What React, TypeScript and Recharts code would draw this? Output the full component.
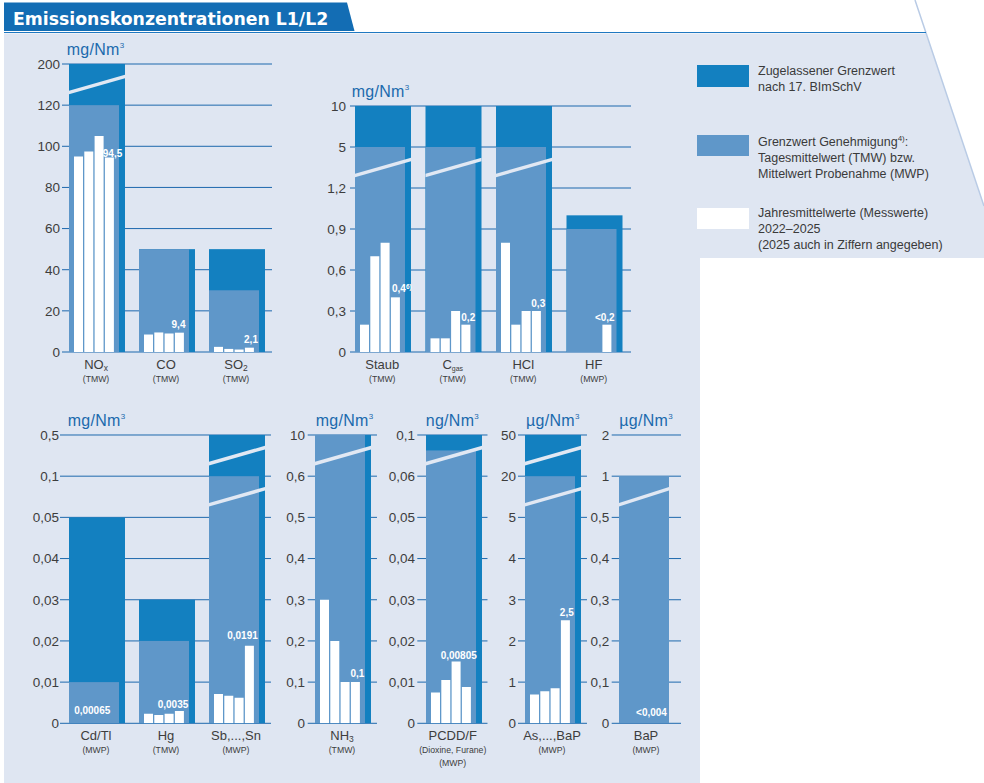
import React from 'react';
import { BarChart, Bar, XAxis, YAxis, CartesianGrid } from 'recharts';

const FONT = '"Liberation Sans", Arial, Helvetica, sans-serif';
const C_LIMIT = '#1380c0';
const C_PERMIT = '#5f97c9';
const C_GRID = '#1d68ad';
const C_TEXT = '#3d3d3d';
const C_UNIT = '#1b6aad';
const C_BG = '#dfe6f2';
const C_BREAK = '#e1e8f3';
const LIMIT_W = 56;
const PERMIT_W = 50;
const YEAR_W = 9;
const MT = 32; // chart top margin (room for unit label)

// ---------- Panel 1: NOx, CO, SO2 (mg/Nm3)
const p1Categories = ['NOx', 'CO', 'SO2'];
const p1Names = ['NO', 'CO', 'SO'];
const p1Subs = ['x', '', '2'];
const p1Notes = [['(TMW)'], ['(TMW)'], ['(TMW)']];
const p1Ticks = [0, 20, 40, 60, 80, 100, 120, 200];
const p1Limit = [200, 50, 50];
const p1Permit = [120, 50, 30];
const p1Y2022 = [95, 8.5, 2.5];
const p1Y2023 = [97.5, 9.5, 1.5];
const p1Y2024 = [105, 9.0, 1.2];
const p1Y2025 = [94.5, 9.4, 2.1];
const p1Labels = ['94,5', '9,4', '2,1'];
const p1LabelNotes = ['', '', ''];

// ---------- Panel 2: Staub, Cgas, HCl, HF (mg/Nm3)
const p2Categories = ['Staub', 'Cgas', 'HCl', 'HF'];
const p2Names = ['Staub', 'C', 'HCl', 'HF'];
const p2Subs = ['', 'gas', '', ''];
const p2Notes = [['(TMW)'], ['(TMW)'], ['(TMW)'], ['(MWP)']];
const p2Ticks = [0, 0.3, 0.6, 0.9, 1.2, 5, 10];
const p2Limit = [10, 10, 10, 1];
const p2Permit = [5, 5, 5, 0.9];
const p2Y2022 = [0.2, 0.1, 0.8, null];
const p2Y2023 = [0.7, 0.1, 0.2, null];
const p2Y2024 = [0.8, 0.3, 0.3, null];
const p2Y2025 = [0.4, 0.2, 0.3, 0.2];
const p2Labels = ['0,4', '0,2', '0,3', '<0,2'];
const p2LabelNotes = ['6)', '', '', ''];

// ---------- Panel 3: Cd/Tl, Hg, Sb..Sn (mg/Nm3)
const p3Categories = ['Cd/Tl', 'Hg', 'Sb,...,Sn'];
const p3Names = ['Cd/Tl', 'Hg', 'Sb,...,Sn'];
const p3Subs = ['', '', ''];
const p3Notes = [['(MWP)'], ['(TMW)'], ['(MWP)']];
const p3Ticks = [0, 0.01, 0.02, 0.03, 0.04, 0.05, 0.1, 0.5];
const p3Limit = [0.05, 0.03, 0.5];
const p3Permit = [0.01, 0.02, 0.1];
const p3Y2022 = [null, 0.0023, 0.0071];
const p3Y2023 = [null, 0.002, 0.0067];
const p3Y2024 = [null, 0.0023, 0.0062];
const p3Y2025 = [null, 0.003, 0.0188];
const p3Labels = ['0,00065', '0,0035', '0,0191'];
const p3LabelNotes = ['', '', ''];

// ---------- Panel 4: NH3 (mg/Nm3)
const p4Categories = ['NH3'];
const p4Names = ['NH'];
const p4Subs = ['3'];
const p4Notes = [['(TMW)']];
const p4Ticks = [0, 0.1, 0.2, 0.3, 0.4, 0.5, 0.6, 10];
const p4Limit = [10];
const p4Permit = [10];
const p4Y2022 = [0.3];
const p4Y2023 = [0.2];
const p4Y2024 = [0.1];
const p4Y2025 = [0.1];
const p4Labels = ['0,1'];
const p4LabelNotes = [''];

// ---------- Panel 5: PCDD/F (ng/Nm3)
const p5Categories = ['PCDD/F'];
const p5Names = ['PCDD/F'];
const p5Subs = [''];
const p5Notes = [['(Dioxine, Furane)', '(MWP)']];
const p5Ticks = [0, 0.01, 0.02, 0.03, 0.04, 0.05, 0.06, 0.1];
const p5Limit = [0.1];
const p5Permit = [0.085];
const p5Y2022 = [0.0075];
const p5Y2023 = [0.0105];
const p5Y2024 = [0.015];
const p5Y2025 = [0.0088];
const p5Labels = ['0,00805'];
const p5LabelNotes = [''];

// ---------- Panel 6: As..BaP (µg/Nm3)
const p6Categories = ['As,...,BaP'];
const p6Names = ['As,...,BaP'];
const p6Subs = [''];
const p6Notes = [['(MWP)']];
const p6Ticks = [0, 1, 2, 3, 4, 5, 20, 50];
const p6Limit = [50];
const p6Permit = [20];
const p6Y2022 = [0.7];
const p6Y2023 = [0.78];
const p6Y2024 = [0.85];
const p6Y2025 = [2.5];
const p6Labels = ['2,5'];
const p6LabelNotes = [''];

// ---------- Panel 7: BaP (µg/Nm3)
const p7Categories = ['BaP'];
const p7Names = ['BaP'];
const p7Subs = [''];
const p7Notes = [['(MWP)']];
const p7Ticks = [0, 0.1, 0.2, 0.3, 0.4, 0.5, 1, 2];
const p7Limit = [null];
const p7Permit = [1];
const p7Y2022 = [null];
const p7Y2023 = [null];
const p7Y2024 = [null];
const p7Y2025 = [null];
const p7Labels = ['<0,004'];
const p7LabelNotes = [''];

// ---------- label placement (style, px) relative to band centre: [dx, dy, anchor]
const labelOffsets: Record<string, [number, number, string]> = {
  NOx: [18, -1, 'middle'],
  CO: [14, -4.6, 'middle'],
  SO2: [16.5, -4.7, 'middle'],
  Staub: [11.5, -5, 'start'],
  Cgas: [17.25, -3.7, 'middle'],
  HCl: [16.75, -3.7, 'middle'],
  HF: [12.75, -3.7, 'middle'],
  'Cd/Tl': [-2.3, -6.6, 'middle'],
  Hg: [8.5, -0.6, 'middle'],
  'Sb,...,Sn': [8, -5.3, 'middle'],
  NH3: [17, -4.8, 'middle'],
  'PCDD/F': [8.25, -30.8, 'middle'],
  'As,...,BaP': [16.3, -4.6, 'middle'],
  BaP: [7, -5.7, 'middle'],
};

type Panel = {
  categories: string[]; names: string[]; subs: string[]; notes: string[][];
  ticks: number[]; limit: (number | null)[]; permit: number[];
  years: (number | null)[][]; labels: string[]; labelNotes: string[];
  unit: string; breaks: number[];
  layout: { plotLeft: number; plotRight: number; plotTop: number; plotBottom: number; padRight: number; labelEnd: number; gridStart: number; unitX: number };
};

const panels: Panel[] = [
  { categories: p1Categories, names: p1Names, subs: p1Subs, notes: p1Notes, ticks: p1Ticks, limit: p1Limit, permit: p1Permit,
    years: [p1Y2022, p1Y2023, p1Y2024, p1Y2025], labels: p1Labels, labelNotes: p1LabelNotes, unit: 'mg/Nm', breaks: [6],
    layout: { plotLeft: 59, plotRight: 272, plotTop: 64.3, plotBottom: 352.3, padRight: 3, labelEnd: 60, gridStart: 62, unitX: 66.7 } },
  { categories: p2Categories, names: p2Names, subs: p2Subs, notes: p2Notes, ticks: p2Ticks, limit: p2Limit, permit: p2Permit,
    years: [p2Y2022, p2Y2023, p2Y2024, p2Y2025], labels: p2Labels, labelNotes: p2LabelNotes, unit: 'mg/Nm', breaks: [4],
    layout: { plotLeft: 345, plotRight: 631, plotTop: 106, plotBottom: 352, padRight: 4, labelEnd: 346, gridStart: 350, unitX: 351.7 } },
  { categories: p3Categories, names: p3Names, subs: p3Subs, notes: p3Notes, ticks: p3Ticks, limit: p3Limit, permit: p3Permit,
    years: [p3Y2022, p3Y2023, p3Y2024, p3Y2025], labels: p3Labels, labelNotes: p3LabelNotes, unit: 'mg/Nm', breaks: [5, 6],
    layout: { plotLeft: 59, plotRight: 271, plotTop: 435, plotBottom: 723.3, padRight: 2, labelEnd: 59, gridStart: 60, unitX: 67.7 } },
  { categories: p4Categories, names: p4Names, subs: p4Subs, notes: p4Notes, ticks: p4Ticks, limit: p4Limit, permit: p4Permit,
    years: [p4Y2022, p4Y2023, p4Y2024, p4Y2025], labels: p4Labels, labelNotes: p4LabelNotes, unit: 'mg/Nm', breaks: [6],
    layout: { plotLeft: 306, plotRight: 377, plotTop: 435, plotBottom: 723.3, padRight: 3, labelEnd: 305, gridStart: 307.7, unitX: 315.7 } },
  { categories: p5Categories, names: p5Names, subs: p5Subs, notes: p5Notes, ticks: p5Ticks, limit: p5Limit, permit: p5Permit,
    years: [p5Y2022, p5Y2023, p5Y2024, p5Y2025], labels: p5Labels, labelNotes: p5LabelNotes, unit: 'ng/Nm', breaks: [6],
    layout: { plotLeft: 416, plotRight: 487.5, plotTop: 435, plotBottom: 723.3, padRight: 2, labelEnd: 415, gridStart: 417.3, unitX: 425.7 } },
  { categories: p6Categories, names: p6Names, subs: p6Subs, notes: p6Notes, ticks: p6Ticks, limit: p6Limit, permit: p6Permit,
    years: [p6Y2022, p6Y2023, p6Y2024, p6Y2025], labels: p6Labels, labelNotes: p6LabelNotes, unit: 'µg/Nm', breaks: [5, 6],
    layout: { plotLeft: 516, plotRight: 587, plotTop: 435, plotBottom: 723.3, padRight: 3, labelEnd: 516, gridStart: 518, unitX: 526 } },
  { categories: p7Categories, names: p7Names, subs: p7Subs, notes: p7Notes, ticks: p7Ticks, limit: p7Limit, permit: p7Permit,
    years: [p7Y2022, p7Y2023, p7Y2024, p7Y2025], labels: p7Labels, labelNotes: p7LabelNotes, unit: 'µg/Nm', breaks: [5],
    layout: { plotLeft: 610, plotRight: 681, plotTop: 435, plotBottom: 723.3, padRight: 3, labelEnd: 609.3, gridStart: 611.7, unitX: 619.3 } },
];

// piecewise-linear position on a broken axis (tick index units)
function toPos(v: number | null, ticks: number[]): number | null {
  if (v == null) return null;
  for (let i = 0; i < ticks.length - 1; i++) {
    if (v <= ticks[i + 1]) return i + (v - ticks[i]) / (ticks[i + 1] - ticks[i]);
  }
  return ticks.length - 1;
}
const parseLabel = (s: string) => parseFloat(s.replace('<', '').replace(',', '.'));
const fmt = (v: number) => String(v).replace('.', ',');

function ChartPanel({ cfg }: { cfg: Panel }) {
  const L = cfg.layout;
  const data = cfg.categories.map((name, i) => ({
    name,
    limit: toPos(cfg.limit[i], cfg.ticks),
    permit: toPos(cfg.permit[i], cfg.ticks),
    y1: toPos(cfg.years[0][i], cfg.ticks),
    y2: toPos(cfg.years[1][i], cfg.ticks),
    y3: toPos(cfg.years[2][i], cfg.ticks),
    y4: toPos(cfg.years[3][i], cfg.ticks),
    anchor: toPos(parseLabel(cfg.labels[i]), cfg.ticks),
  }));
  const n = cfg.ticks.length - 1;
  const yTicks = cfg.ticks.map((_, i) => i);
  const left = L.plotLeft - 60;
  const top = L.plotTop - MT;
  const width = L.plotRight - left + 10;
  const height = L.plotBottom - top + 50;
  const pad = { left: 0, right: L.padRight };

  // limit bar is left-aligned with the permit bar (wider to the right)
  const limitShape = (p: any) =>
    p.height > 0 ? <rect x={p.x + (LIMIT_W - PERMIT_W) / 2} y={p.y} width={p.width} height={p.height} fill={C_LIMIT} /> : null;

  const permitShape = (p: any) => {
    const { x, y, width, height, payload } = p;
    if (!(height > 0)) return null;
    const pos = payload.permit;
    const ppu = height / pos;
    const base = y + height;
    const hasLimit = payload.limit != null;
    const w = hasLimit ? LIMIT_W : width;
    const topPos = Math.max(pos, payload.limit ?? 0);
    const rise = 8;
    const t = 1.8;
    return (
      <g>
        <rect x={x} y={y} width={width} height={height} fill={C_PERMIT} />
        {cfg.breaks.filter((b) => b + 0.5 < topPos).map((b) => {
          const yc = base - (b + 0.5) * ppu;
          const pts = `${x},${yc + rise - t} ${x + w},${yc - rise - t} ${x + w},${yc - rise + t} ${x},${yc + rise + t}`;
          return <polygon key={b} points={pts} fill={C_BREAK} />;
        })}
      </g>
    );
  };

  const labelShape = (p: any) => {
    const name = p.payload?.name;
    const i = cfg.categories.indexOf(name);
    const text = cfg.labels[i];
    const note = cfg.labelNotes[i];
    const off = labelOffsets[name] || [0, -4, 'middle'];
    const cx = p.x + p.width / 2;
    return (
      <text x={cx + off[0]} y={p.y + off[1]} textAnchor={off[2] as any} fill="#ffffff" fontSize={10} fontWeight="bold" fontFamily={FONT}>
        {text}
        {note ? <tspan fontSize={6.5} dy={-3.5}>{note}</tspan> : null}
      </text>
    );
  };

  const catTick = (props: any) => {
    const { x, y, payload } = props;
    const i = cfg.categories.indexOf(payload.value);
    if (i < 0) return <g />;
    return (
      <g>
        <text x={x + 2} y={y + 16.5} textAnchor="middle" fontSize={13} fill={C_TEXT} fontFamily={FONT}>
          <tspan>{cfg.names[i]}</tspan>
          {cfg.subs[i] ? <tspan fontSize={cfg.subs[i].length > 1 ? 7 : 8.5} dy={2.5}>{cfg.subs[i]}</tspan> : null}
        </text>
        {cfg.notes[i].map((line, k) => (
          <text key={k} x={x + 2} y={y + 29.5 + k * 13} textAnchor="middle" fontSize={8.7} fill={C_TEXT} fontFamily={FONT}>{line}</text>
        ))}
      </g>
    );
  };

  const gridLine = (gp: any) => (
    <line key={`g-${gp.index}-${gp.y1}`} x1={L.gridStart - left} x2={gp.x2} y1={gp.y1} y2={gp.y2} stroke={C_GRID} strokeWidth={1} />
  );

  const unitLabel = () => (
    <text x={L.unitX - left} y={MT - 9} fill={C_UNIT} fontSize={16} letterSpacing={0.3} fontFamily={FONT}>
      {cfg.unit}
      <tspan fontSize={8} dy={-7}>3</tspan>
    </text>
  );

  return (
    <div style={{ position: 'absolute', left, top, width, height }}>
      <BarChart width={width} height={height} data={data} margin={{ top: MT, right: 10, bottom: 0, left: 0 }} barGap={1.3}>
        <CartesianGrid vertical={false} horizontal={gridLine} />
        <XAxis xAxisId={0} dataKey="name" height={50} padding={pad} tickLine={false} axisLine={false} tickSize={0} tickMargin={0} interval={0} tick={catTick} />
        <XAxis xAxisId="lim" dataKey="name" hide padding={pad} />
        <XAxis xAxisId="per" dataKey="name" hide padding={pad} />
        <XAxis xAxisId="anc" dataKey="name" hide padding={pad} />
        <YAxis
          width={60}
          type="number"
          domain={[0, n]}
          ticks={yTicks}
          interval={0}
          allowDataOverflow
          axisLine={false}
          tickLine={false}
          tickSize={0}
          tickMargin={L.plotLeft - L.labelEnd}
          tickFormatter={(v: number) => fmt(cfg.ticks[v])}
          tick={{ fill: C_TEXT, fontSize: 13.5, fontFamily: FONT }}
          label={unitLabel}
        />
        <Bar xAxisId="lim" dataKey="limit" barSize={LIMIT_W} fill={C_LIMIT} shape={limitShape} isAnimationActive={false} />
        <Bar xAxisId="per" dataKey="permit" barSize={PERMIT_W} fill={C_PERMIT} shape={permitShape} isAnimationActive={false} />
        <Bar xAxisId={0} dataKey="y1" barSize={YEAR_W} fill="#ffffff" isAnimationActive={false} />
        <Bar xAxisId={0} dataKey="y2" barSize={YEAR_W} fill="#ffffff" isAnimationActive={false} />
        <Bar xAxisId={0} dataKey="y3" barSize={YEAR_W} fill="#ffffff" isAnimationActive={false} />
        <Bar xAxisId={0} dataKey="y4" barSize={YEAR_W} fill="#ffffff" isAnimationActive={false} />
        <Bar xAxisId="anc" dataKey="anchor" barSize={YEAR_W} shape={labelShape} isAnimationActive={false} />
      </BarChart>
    </div>
  );
}

const legendText: React.CSSProperties = {
  position: 'absolute', fontFamily: FONT, fontSize: 12.5, lineHeight: '16px', color: '#3a3a3a', whiteSpace: 'nowrap',
};

export default function App() {
  return (
    <div style={{ position: 'absolute', left: 0, top: 0, width: 984, height: 783, overflow: 'hidden', background: '#ffffff' }}>
      <svg width={984} height={783} style={{ position: 'absolute', left: 0, top: 0 }}>
        <polygon points="4,33.5 926,33.5 984,206 984,258 700,258 700,783 4,783" fill={C_BG} />
        <line x1={915} y1={0} x2={984} y2={206} stroke="#b9cbe5" strokeWidth={1.5} />
        <polygon points="4,2.5 347,2.5 354.5,31 4,31" fill="#136db4" />
        <line x1={4} y1={32.5} x2={926} y2={32.5} stroke="#1f78c1" strokeWidth={1} />
        <text x={13} y={25} fill="#ffffff" fontFamily="DejaVu Sans" fontWeight="bold" fontSize={17.3}>Emissionskonzentrationen L1/L2</text>
      </svg>

      <div style={{ position: 'absolute', left: 697, top: 65, width: 52, height: 22, background: C_LIMIT }} />
      <div style={{ ...legendText, left: 758, top: 62.7 }}>Zugelassener Grenzwert<br />nach 17. BImSchV</div>
      <div style={{ position: 'absolute', left: 697, top: 135, width: 52, height: 21, background: C_PERMIT }} />
      <div style={{ ...legendText, left: 758, top: 133.7 }}>
        Grenzwert Genehmigung<sup style={{ fontSize: 8, lineHeight: 0, verticalAlign: 'super' }}>4)</sup>:<br />Tagesmittelwert (TMW) bzw.<br />Mittelwert Probenahme (MWP)
      </div>
      <div style={{ position: 'absolute', left: 697, top: 208.3, width: 52, height: 21, background: '#ffffff' }} />
      <div style={{ ...legendText, left: 758, top: 204.7 }}>Jahresmittelwerte (Messwerte)<br />2022–2025<br />(2025 auch in Ziffern angegeben)</div>

      {panels.map((cfg, i) => (
        <ChartPanel key={i} cfg={cfg} />
      ))}
    </div>
  );
}
